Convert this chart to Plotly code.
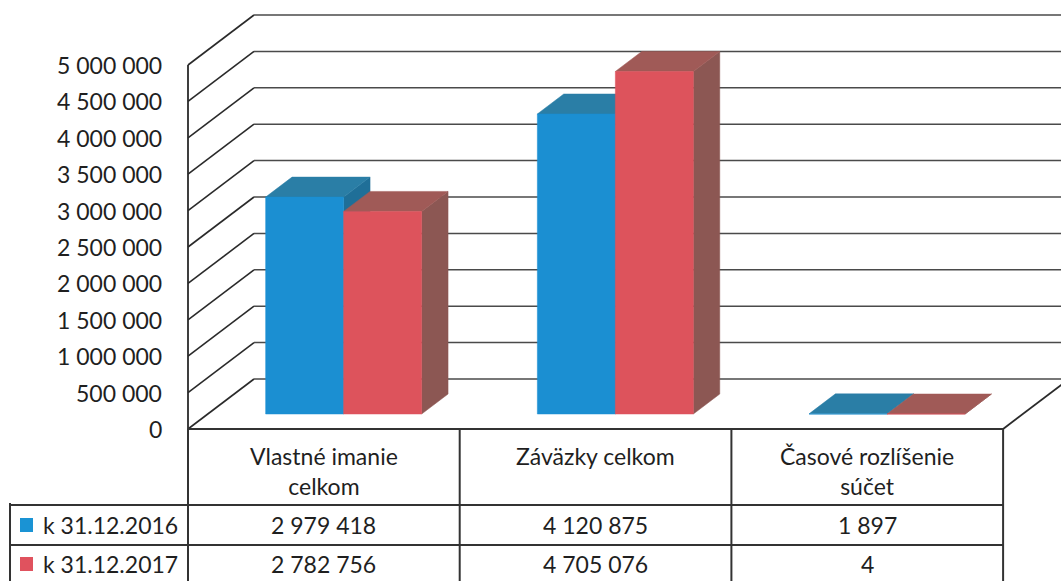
import plotly.graph_objects as go

# ---------------- data ----------------
categories = ["Vlastné imanie<br>celkom", "Záväzky celkom", "Časové rozlíšenie<br>súčet"]
series_names = ["k 31.12.2016", "k 31.12.2017"]
values_2016 = [2979418, 4120875, 1897]
values_2017 = [2782756, 4705076, 4]
tick_values = [0, 500000, 1000000, 1500000, 2000000, 2500000,
               3000000, 3500000, 4000000, 4500000, 5000000]

# ---------------- styles ----------------
FRONT = ["#1b8fd2", "#dd535c"]
TOP = ["#2a7ea6", "#a05a57"]
SIDE = ["#1f6f98", "#8c5753"]
LEG = ["#1a93d4", "#e0525e"]
LINE = "#333333"
TXT = "#1f1f1f"
FONT = "Lato"
FS = 23

W_PX, H_PX = 1061, 581
COL_PX = 271.7
X_LEFT_PX = 188
Y0_PX, Y5_PX = 429, 65
VPP = 5e6 / (Y0_PX - Y5_PX)


def px_x(px):
    return (px - X_LEFT_PX) / COL_PX - 0.5


def px_y(px):
    return (Y0_PX - px) * VPP


DX = 66 / COL_PX          # full depth offset in x units
DY = 50 * VPP             # full depth offset in value units
D0 = 0.3                  # depth of bar front
DD = 0.4                  # bar depth
BW = 78 / COL_PX          # bar width

fig = go.Figure()

shapes = []


def seg(x0, y0, x1, y1, color=LINE, width=1.6, layer="below"):
    shapes.append(dict(type="line", xref="x", yref="y", x0=x0, y0=y0, x1=x1, y1=y1,
                       line=dict(color=color, width=width), layer=layer))


def poly(xs, ys, color, name=None):
    fig.add_trace(go.Scatter(
        x=xs + [xs[0]], y=ys + [ys[0]], fill="toself", fillcolor=color,
        mode="lines", line=dict(width=0.5, color=color),
        hoverinfo="skip", showlegend=False, name=name))


n = len(categories)
x_front = -0.5
x_right = n - 0.5
# walls / gridlines
for t in tick_values:
    seg(x_front, t, x_front + DX, t + DY, color="#2a2a2a", width=1.6)
    seg(x_front + DX, t + DY, x_right + DX + 0.2, t + DY, color="#4a4a4a", width=1.5)
# front value axis
seg(x_front, 0, x_front, tick_values[-1], color="#2a2a2a", width=1.8)
# floor right edge
seg(x_right, 0, x_right + DX, DY, color="#2a2a2a", width=1.8)

# ---------------- bars (3D boxes, drawn back-to-front) ----------------
series_vals = [values_2016, values_2017]
base = D0 * DY
for i in range(n):
    for s, vals in enumerate(series_vals):
        v = vals[i]
        off = D0 * DX - BW + s * BW
        xl = i + off
        xr = xl + BW
        top = base + v
        poly([xr, xr, xr + DD * DX, xr + DD * DX],
             [base, top, top + DD * DY, base + DD * DY], SIDE[s])
        poly([xl, xr, xr + DD * DX, xl + DD * DX],
             [top, top, top + DD * DY, top + DD * DY], TOP[s])
        poly([xl, xr, xr, xl], [base, base, top, top], FRONT[s], series_names[s])

# ---------------- table ----------------
annotations = []
for t in tick_values:
    annotations.append(dict(x=px_x(164), y=t, xref="x", yref="y",
                            text=f"{t:,}".replace(",", " "), showarrow=False,
                            xanchor="right", yanchor="middle",
                            font=dict(family=FONT, size=FS, color=TXT)))

row_y_px = [505, 545, 590]
leg_left_px = 10
# horizontal table lines
seg(x_front, 0, x_right, 0, width=2, layer="above")
for py in row_y_px[:2]:
    seg(px_x(leg_left_px), px_y(py), x_right, px_y(py), width=2, layer="above")
# vertical table lines
seg(x_front, 0, x_front, px_y(H_PX + 5), width=2, layer="above")
for k in range(1, n + 1):
    seg(k - 0.5, 0, k - 0.5, px_y(H_PX + 5), width=2, layer="above")
seg(px_x(leg_left_px), px_y(row_y_px[0] - 2), px_x(leg_left_px), px_y(H_PX + 5), width=2, layer="above")

for i, c in enumerate(categories):
    annotations.append(dict(x=i, y=px_y(440), xref="x", yref="y", text=c,
                            showarrow=False, xanchor="center", yanchor="top",
                            font=dict(family=FONT, size=FS, color=TXT)))

row_centers_px = [525, 564]
for s, vals in enumerate(series_vals):
    yc = px_y(row_centers_px[s])
    for i, v in enumerate(vals):
        annotations.append(dict(x=i, y=yc, xref="x", yref="y",
                                text=f"{v:,}".replace(",", " "), showarrow=False,
                                xanchor="center", yanchor="middle",
                                font=dict(family=FONT, size=FS, color=TXT)))
    annotations.append(dict(x=px_x(41), y=yc, xref="x", yref="y",
                            text=series_names[s], showarrow=False,
                            xanchor="left", yanchor="middle",
                            font=dict(family=FONT, size=FS, color=TXT)))
    shapes.append(dict(type="rect", xref="x", yref="y",
                       x0=px_x(20), x1=px_x(33),
                       y0=yc - 7 * VPP, y1=yc + 7 * VPP,
                       fillcolor=LEG[s], line=dict(width=0), layer="above"))

fig.update_layout(
    width=W_PX, height=H_PX, autosize=False,
    margin=dict(l=0, r=0, t=0, b=0, pad=0),
    paper_bgcolor="white", plot_bgcolor="white",
    xaxis=dict(range=[px_x(0), px_x(W_PX)], visible=False, fixedrange=True),
    yaxis=dict(range=[px_y(H_PX), px_y(0)], visible=False, fixedrange=True),
    shapes=shapes, annotations=annotations,
    font=dict(family=FONT),
)

fig.write_html("out.html", post_script="document.body.style.margin='0';",
               config={"displayModeBar": False})
